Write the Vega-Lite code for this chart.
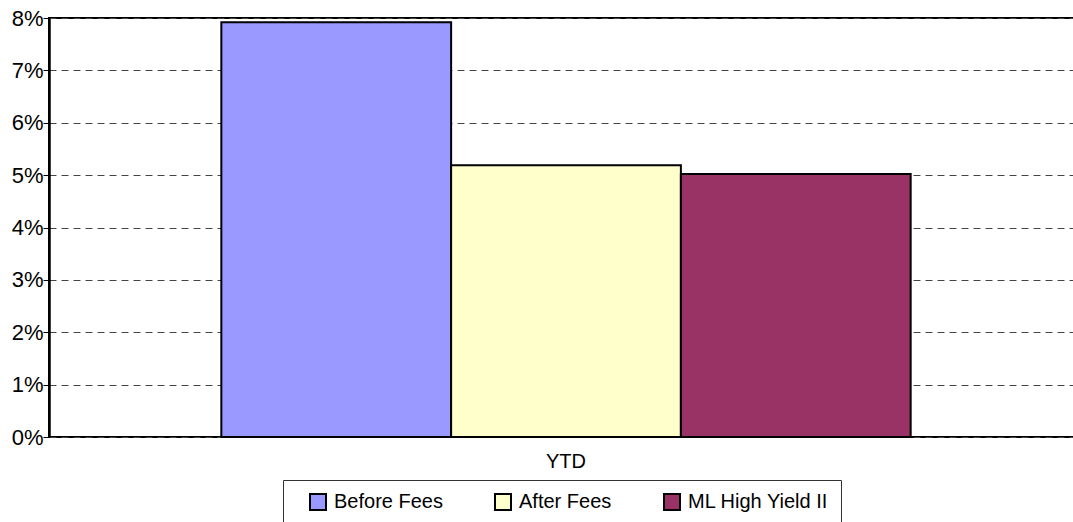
{
  "$schema": "https://vega.github.io/schema/vega-lite/v6.json",
  "width": 1034,
  "height": 419,
  "autosize": {"type": "none"},
  "padding": {"left": 49, "top": 18, "right": 0, "bottom": 85},
  "background": "white",
  "config": {
    "view": {"stroke": "black", "strokeWidth": 2},
    "font": "Liberation Sans"
  },
  "data": {
    "values": [
      {"period": "YTD", "series": "Before Fees", "value": 0.0792},
      {"period": "YTD", "series": "After Fees", "value": 0.0519},
      {"period": "YTD", "series": "ML High Yield II", "value": 0.0502}
    ]
  },
  "mark": {"type": "bar", "stroke": "black", "strokeWidth": 2},
  "encoding": {
    "x": {
      "field": "period",
      "type": "nominal",
      "scale": {"paddingInner": 0, "paddingOuter": 0.25},
      "axis": {"title": null, "labelAngle": 0, "ticks": false, "domain": false, "labelFontSize": 20, "labelColor": "black", "labelPadding": 14}
    },
    "xOffset": {
      "field": "series",
      "type": "nominal",
      "sort": ["Before Fees", "After Fees", "ML High Yield II"],
      "scale": {"paddingInner": 0, "paddingOuter": 0}
    },
    "y": {
      "field": "value",
      "type": "quantitative",
      "scale": {"domain": [0, 0.08], "nice": false},
      "axis": {
        "format": ".0%",
        "values": [0, 0.01, 0.02, 0.03, 0.04, 0.05, 0.06, 0.07, 0.08],
        "grid": true,
        "gridDash": [7, 5],
        "gridColor": "#444444",
        "gridWidth": 1,
        "labelFontSize": 22,
        "labelColor": "black",
        "tickSize": 6,
        "tickColor": "black",
        "domainColor": "black",
        "domainWidth": 2.5,
        "title": null,
        "labelPadding": 0
      }
    },
    "color": {
      "field": "series",
      "type": "nominal",
      "sort": ["Before Fees", "After Fees", "ML High Yield II"],
      "scale": {"domain": ["Before Fees", "After Fees", "ML High Yield II"], "range": ["#9999FF", "#FFFFCC", "#993366"]},
      "legend": {
        "title": " ",
        "titleOrient": "left",
        "titleFontSize": 1,
        "titlePadding": 13,
        "orient": "none",
        "legendX": 234,
        "legendY": 462,
        "direction": "horizontal",
        "strokeColor": "#333333",
        "fillColor": "white",
        "padding": 12,
        "symbolType": "square",
        "symbolSize": 256,
        "symbolStrokeColor": "black",
        "symbolStrokeWidth": 2,
        "symbolOpacity": 1,
        "labelFontSize": 20,
        "labelColor": "black",
        "labelOffset": 6,
        "columnPadding": 48,
        "labelExpr": "datum.label == 'ML High Yield II' ? datum.label + '  ' : datum.label"
      }
    }
  }
}
